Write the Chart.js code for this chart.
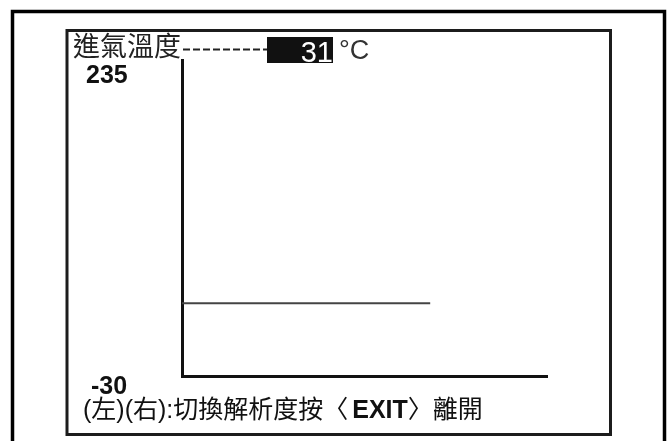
<!DOCTYPE html>
<html>
<head>
<meta charset="utf-8">
<title>進氣溫度</title>
<script src="https://cdn.jsdelivr.net/npm/chart.js@4.4.1/dist/chart.umd.min.js"></script>
<style>
  html, body { margin: 0; padding: 0; background: #fff; }
  #wrap { width: 669px; height: 441px; }
</style>
</head>
<body>
<div id="wrap"><canvas id="temp-chart" width="669" height="441"></canvas></div>
<script>
// data
const sensorName = '進氣溫度';
const unitLabel = '°C';
const sampleTimes = [0, 20, 40, 60, 80, 102];
const intakeTemps = [31, 31, 31, 31, 31, 31];
const yTickLabels = [235, -30];   // top, bottom of the scale
const xRange = [0, 150];
const helpParts = ['(左)(右):切換解析度按', '〈', 'EXIT', '〉', '離開'];

const latFont = "'Liberation Sans', 'Noto Sans CJK TC', sans-serif";
const cjkFont = "'Noto Sans CJK TC', 'Liberation Sans', sans-serif";

// frames of the screen, drawn behind the chart
const screenFrame = {
    id: 'screenFrame',
    beforeDraw(chart) {
        const ctx = chart.ctx;
        ctx.save();
        ctx.fillStyle = '#fff';
        ctx.fillRect(0, 0, chart.width, chart.height);
        // outer frame
        ctx.strokeStyle = '#000';
        ctx.lineWidth = 3.5;
        ctx.strokeRect(12.5, 11.5, 652, 440);
        // inner screen frame
        ctx.strokeStyle = '#1c1c1c';
        ctx.lineWidth = 3;
        ctx.strokeRect(67, 30.5, 543.5, 404);
        ctx.restore();
    }
};

// texts of the screen: title, reading, scale limits, help line
const screenText = {
    id: 'screenText',
    afterDraw(chart) {
        const ctx = chart.ctx;
        const y = chart.scales.y;
        const area = chart.chartArea;
        const reading = intakeTemps[intakeTemps.length - 1];
        ctx.save();

        // title
        ctx.fillStyle = '#222';
        ctx.font = '27px ' + cjkFont;
        ctx.textBaseline = 'middle';
        ctx.textAlign = 'left';
        ctx.fillText(sensorName, 73, 45.5);

        // dashes to the reading
        ctx.strokeStyle = '#222';
        ctx.lineWidth = 2;
        ctx.setLineDash([7, 3]);
        ctx.beginPath();
        ctx.moveTo(area.left + 1, 49.5);
        ctx.lineTo(267, 49.5);
        ctx.stroke();
        ctx.setLineDash([]);

        // reading box
        ctx.fillStyle = '#111';
        ctx.fillRect(267, 37, 66, 26);
        ctx.textBaseline = 'alphabetic';
        ctx.fillStyle = '#fff';
        ctx.font = '29px ' + latFont;
        ctx.textAlign = 'right';
        ctx.fillText(String(reading), 333, 62);

        ctx.textAlign = 'left';
        ctx.fillStyle = '#333';
        ctx.font = '27px ' + latFont;
        ctx.fillText(unitLabel, 339, 59);

        // scale limits
        ctx.fillStyle = '#111';
        ctx.font = 'bold 25px ' + latFont;
        ctx.fillText(String(yTickLabels[0]), 86, y.getPixelForValue(yTickLabels[0]) + 23);
        ctx.fillText(String(yTickLabels[1]), 91, y.getPixelForValue(yTickLabels[1]) + 18);

        // help line
        let x = 83;
        const base = 418;
        helpParts.forEach(function (part) {
            ctx.font = (part === 'EXIT' ? 'bold 25px ' : '25px ') + latFont;
            if (part === 'EXIT') x += 4;
            ctx.fillText(part, x, base);
            x += ctx.measureText(part).width;
        });

        ctx.restore();
    }
};

const data = {
    datasets: [{
        label: sensorName,
        data: sampleTimes.map((t, i) => ({ x: t, y: intakeTemps[i] })),
        borderColor: '#444',
        borderWidth: 2,
        pointRadius: 0,
        fill: false,
        tension: 0
    }]
};

const axisStyle = {
    grid: { display: false },
    ticks: { display: false },
    border: { display: true, color: '#111', width: 3 }
};

const config = {
    type: 'line',
    data: data,
    plugins: [screenFrame, screenText],
    options: {
        responsive: false,
        animation: false,
        layout: {
            padding: { left: 174, right: 122, top: 60, bottom: 57 }
        },
        scales: {
            x: Object.assign({ type: 'linear', min: xRange[0], max: xRange[1] }, axisStyle),
            y: Object.assign({ type: 'linear', min: yTickLabels[1], max: yTickLabels[0] }, axisStyle)
        },
        plugins: {
            legend: { display: false },
            tooltip: { enabled: false }
        }
    }
};

new Chart(document.getElementById('temp-chart').getContext('2d'), config);
</script>
</body>
</html>
